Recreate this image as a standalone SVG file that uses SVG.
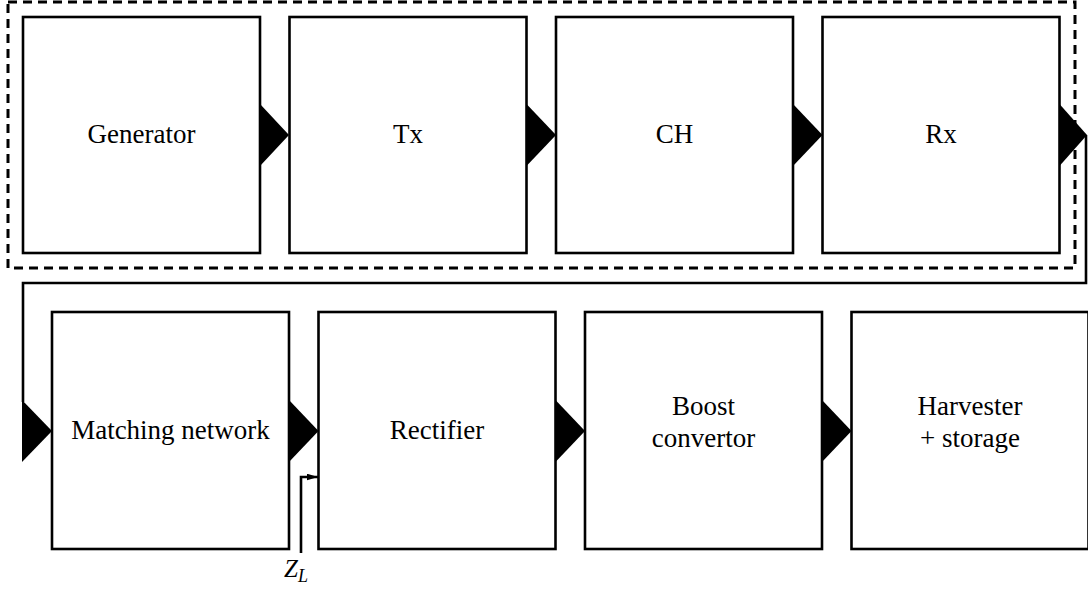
<svg xmlns="http://www.w3.org/2000/svg" width="1088" height="590" viewBox="0 0 1088 590" font-family="Liberation Serif, Times New Roman, serif">
  <style>
    .box { fill: #fff; stroke: #000; stroke-width: 2.6; }
    .lbl { font-size: 27px; fill: #000; text-anchor: middle; }
    .tri { fill: #000; stroke: none; }
    .wire { fill: none; stroke: #000; stroke-width: 2.6; }
  </style>
  <defs>
    <marker id="ah" viewBox="0 0 10 6" refX="10" refY="3" markerWidth="11" markerHeight="7" markerUnits="userSpaceOnUse" orient="auto">
      <path d="M0,0 L10,3 L0,6 Z" fill="#000"/>
    </marker>
  </defs>
  <rect x="8" y="2" width="1067" height="266" fill="none" stroke="#000" stroke-width="3" stroke-dasharray="9,6"/>

  <g id="generator"><rect class="box" x="23" y="17" width="237" height="236"/><text class="lbl" x="141.5" y="143" font-family="Liberation Serif">Generator</text></g>
  <g id="tx"><rect class="box" x="289.5" y="17" width="237" height="236"/><text class="lbl" x="408" y="143" font-family="Liberation Serif">Tx</text></g>
  <g id="ch"><rect class="box" x="556" y="17" width="237" height="236"/><text class="lbl" x="674.5" y="143" font-family="Liberation Serif">CH</text></g>
  <g id="rx"><rect class="box" x="822.5" y="17" width="237" height="236"/><text class="lbl" x="941" y="143" font-family="Liberation Serif">Rx</text></g>

  <g id="matching"><rect class="box" x="52" y="312" width="237" height="237"/><text class="lbl" x="170.5" y="439" font-family="Liberation Serif">Matching network</text></g>
  <g id="rectifier"><rect class="box" x="318.5" y="312" width="237" height="237"/><text class="lbl" x="437" y="439" font-family="Liberation Serif">Rectifier</text></g>
  <g id="boost"><rect class="box" x="585" y="312" width="237" height="237"/><text class="lbl" x="703.5" y="415" font-family="Liberation Serif">Boost</text><text class="lbl" x="703.5" y="447" font-family="Liberation Serif">convertor</text></g>
  <g id="harvester"><rect class="box" x="851.5" y="312" width="237" height="237"/><text class="lbl" x="970" y="415" font-family="Liberation Serif">Harvester</text><text class="lbl" x="970" y="447" font-family="Liberation Serif">+ storage</text></g>

  <g id="connectors">
    <path class="tri" d="M260,104 L289,135 L260,166 Z"/>
    <path class="tri" d="M526.5,104 L556,135 L526.5,166 Z"/>
    <path class="tri" d="M793,104 L822.5,135 L793,166 Z"/>
    <path class="tri" d="M1059.5,104 L1087,135 L1059.5,166 Z"/>
    <path class="wire" d="M1086,135 L1086,283 L23,283 L23,402"/>
    <path class="tri" d="M22,400 L52,431 L22,462 Z"/>
    <path class="tri" d="M289,400 L318.5,431 L289,462 Z"/>
    <path class="tri" d="M555.5,400 L585,431 L555.5,462 Z"/>
    <path class="tri" d="M822,400 L851.5,431 L822,462 Z"/>
    <path class="wire" d="M301,553 L301,477 L318,477" marker-end="url(#ah)"/>
  </g>
  <text x="284" y="577" font-family="Liberation Serif" font-style="italic" font-size="25" fill="#000">Z<tspan font-size="18" dy="5">L</tspan></text>
</svg>
